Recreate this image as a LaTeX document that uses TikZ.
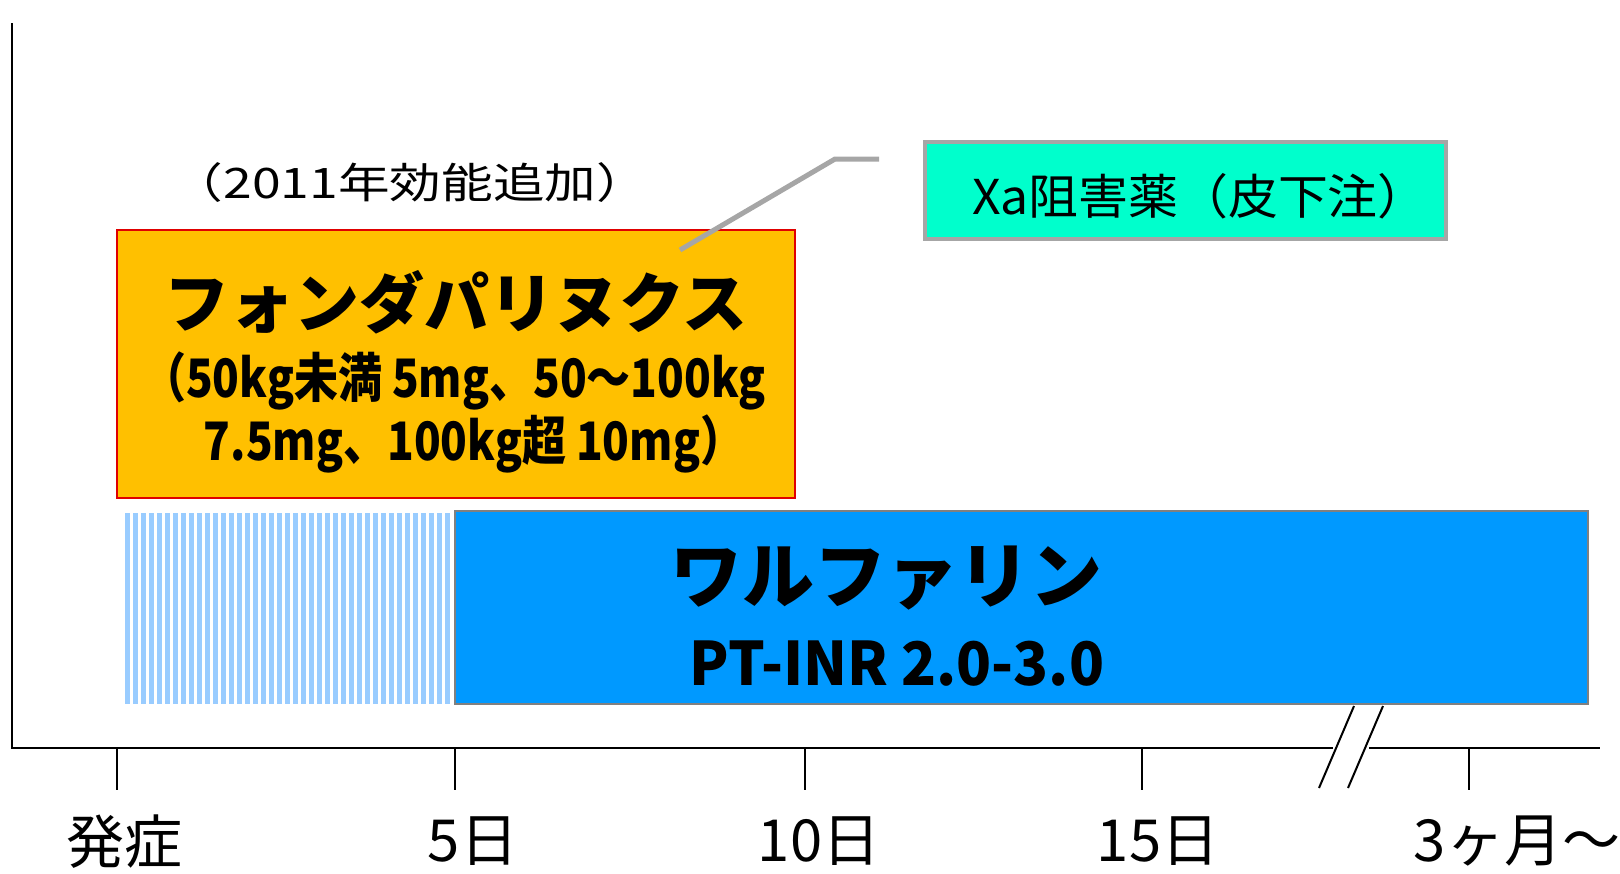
\documentclass[tikz,border=0pt]{standalone}
\usepackage{fontspec}
\newfontfamily\jp{Noto Sans CJK JP}
\newfontfamily\jpnarrow[FakeStretch=0.83]{Noto Sans CJK JP}
\newfontfamily\jpinr[FakeStretch=0.96]{Noto Sans CJK JP}
\newfontfamily\jpwide[FakeStretch=1.23]{Noto Sans CJK JP}
\newfontfamily\jpxa[FakeStretch=1.04]{Noto Sans CJK JP}
\definecolor{orangefill}{HTML}{FFC000}
\definecolor{redline}{HTML}{E00000}
\definecolor{tealfill}{HTML}{00FFCC}
\definecolor{grayline}{HTML}{A6A6A6}
\definecolor{bluefill}{HTML}{0099FF}
\definecolor{stripeblue}{HTML}{99CCFF}
\begin{document}
\begin{tikzpicture}[x=1pt,y=-1pt,
  box/.style={rectangle,inner sep=0pt,outer sep=0pt},
  axisline/.style={line width=2pt,black},
  ticklabel/.style={font=\jp\fontsize{58}{64}\selectfont,inner sep=0pt},
  doseline/.style={font=\jpnarrow\bfseries\fontsize{53}{63}\selectfont,inner sep=0pt},
  txt/.style={inner sep=0pt,align=center}]
\useasboundingbox (0,0) rectangle (1620,873);
% boxes
\node[box,draw=redline,line width=1.5pt,fill=orangefill,minimum width=678pt,minimum height=268pt] (fonda) at (456,364) {};
\node[box,draw=grayline,line width=4pt,fill=tealfill,minimum width=521pt,minimum height=97pt] (xa) at (1185.5,190.5) {};
\node[box,draw=gray,line width=1.5pt,fill=bluefill,minimum width=1133pt,minimum height=193pt] (warf) at (1021.5,607.5) {};
% stripes
\foreach \i in {0,...,40} {
  \fill[stripeblue] (125+8*\i,513) rectangle (129.5+8*\i,704);
}
% callout line
\coordinate (c1) at (680,250);
\coordinate (c2) at (835,159);
\coordinate (c3) at (879,159);
\draw[grayline,line width=5pt] (c1) -- (c2) -- (c3);
% texts
\node[txt,font=\jpwide\fontsize{42}{48}\selectfont] (note) at (410,183) {（2011年効能追加）};
\node[txt,font=\jp\bfseries\fontsize{65}{72}\selectfont] (fname) at (456,302) {フォンダパリヌクス};
\node[doseline,anchor=base] (dose1) at (454,397) {（50kg未満 5mg、50～100kg};
\node[doseline,anchor=base] (dose2) at (474,460) {7.5mg、100kg超 10mg）};
\node[txt,font=\jpxa\fontsize{48}{54}\selectfont] (xatext) at (1200,196) {Xa阻害薬（皮下注）};
\node[txt,font=\jp\bfseries\fontsize{72}{80}\selectfont] (wname) at (886,578) {ワルファリン};
\node[txt,font=\jpinr\bfseries\fontsize{60}{66}\selectfont] (winr) at (897,664) {PT-INR 2.0-3.0};
% axes
\coordinate (ytop) at (12,23);
\coordinate (orig) at (12,748);
\coordinate (brk1) at (1333,748);
\coordinate (brk2) at (1369,748);
\coordinate (xend) at (1600,748);
\draw[axisline] (ytop) -- (orig) -- (brk1);
\draw[axisline] (brk2) -- (xend);
\coordinate (b1a) at (1319,788); \coordinate (b1b) at (1354,706);
\coordinate (b2a) at (1348,788); \coordinate (b2b) at (1383,706);
\draw[axisline] (b1a) -- (b1b);
\draw[axisline] (b2a) -- (b2b);
\foreach \x/\nm in {117/t0,455/t5,805/t10,1142/t15,1469/t3m} {
  \coordinate (\nm) at (\x,748);
  \draw[axisline] (\nm) -- ++(0,42);
}
\node[ticklabel] (l0) at (124,842) {発症};
\node[ticklabel] (l5) at (473,841) {5日};
\node[ticklabel] (l10) at (819,841) {10日};
\node[ticklabel] (l15) at (1158,841) {15日};
\node[ticklabel] (l3m) at (1517,841) {3ヶ月～};
\end{tikzpicture}
\end{document}
